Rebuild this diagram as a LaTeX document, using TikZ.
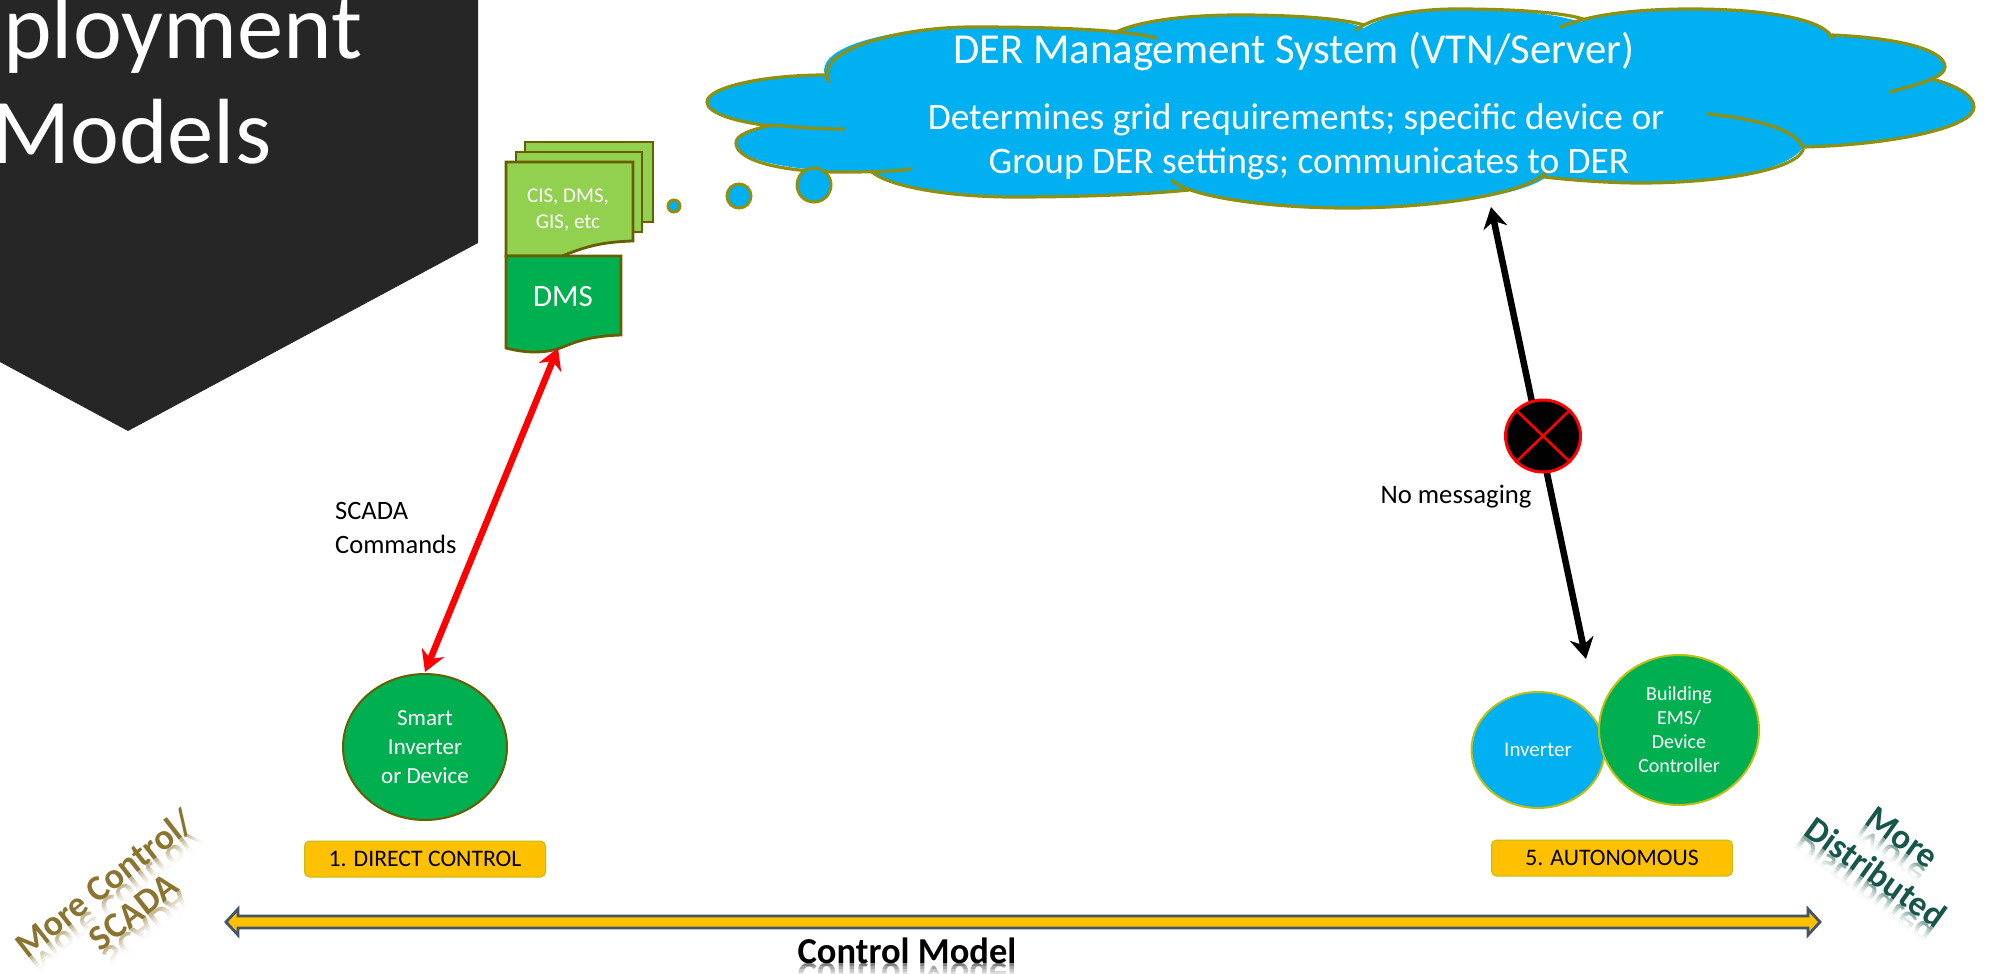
\documentclass[tikz,border=0pt]{standalone}
\usepackage{fontspec}
\setmainfont{Carlito}
\usetikzlibrary{arrows.meta,calc,shapes.geometric}
\definecolor{cloudblue}{HTML}{00B0F0}
\definecolor{cloudline}{HTML}{8F8F10}
\definecolor{docline}{HTML}{665E00}
\definecolor{lightgreen}{HTML}{92D050}
\definecolor{midgreen}{HTML}{00B050}
\definecolor{amber}{HTML}{FFC000}
\definecolor{slateb}{HTML}{44546A}
\definecolor{limeline}{HTML}{BFBF10}
\definecolor{darkpanel}{HTML}{262626}
\definecolor{goldtext}{HTML}{8A7430}
\definecolor{tealtext}{HTML}{17564A}
\newcommand{\fs}[1]{\fontsize{#1}{#1}\selectfont}
% #1 name, #2 x, #3 y, #4 angle, #5 size, #6 colour, #7 half width, #8 text
\newcommand{\mirrored}[8]{%
 \begin{scope}[shift={(#2,#3)}]
  \node[anchor=base,inner sep=0pt,rotate=#4,yscale=-1,text=#6!50!white,font=\bfseries\fs{#5}] (#1R) at (0,0) {#8};
  \begin{scope}[rotate=#4]
   \fill[white,opacity=.3] (-#7,3) rectangle (#7,32);
   \fill[white,opacity=.35] (-#7,6) rectangle (#7,32);
   \fill[white,opacity=.45] (-#7,9) rectangle (#7,32);
   \fill[white,opacity=.6] (-#7,12) rectangle (#7,32);
   \fill[white,opacity=.75] (-#7,15) rectangle (#7,32);
   \fill[white] (-#7,18) rectangle (#7,32);
  \end{scope}
 \end{scope}}
\newcommand{\mainlabel}[6]{%
  \node[anchor=base,inner sep=0pt,rotate=#4,text=#6,font=\bfseries\fs{#5}] (#1) at (#2,#3) {\csname lbl#1\endcsname};}
\newcommand{\lblcm}{Control Model}
\newcommand{\lblleftA}{More Control/}
\newcommand{\lblleftB}{SCADA}
\newcommand{\lblrightA}{More}
\newcommand{\lblrightB}{Distributed}
\tikzset{
  x=1pt,y=-1pt,
  lobe/.style={draw=cloudline,line width=3.2pt,line cap=round},
  bubble/.style={circle,draw=cloudline,line width=3pt,fill=cloudblue,inner sep=0pt},
  page/.style={draw=docline,line width=2.8pt,fill=lightgreen,line join=miter},
  roundlabel/.style={draw=limeline,line width=1pt,fill=amber,rounded corners=5pt,minimum width=241pt,minimum height=36pt,inner sep=0pt,text=black,font=\fs{23.7}},
  disc/.style={ellipse,draw,inner sep=0pt,align=center,text=white},
  dbl/.style={line width=6.5pt,{Stealth[length=21pt,width=24pt]}-{Stealth[length=21pt,width=24pt]}},
}
\begin{document}
\begin{tikzpicture}
\useasboundingbox (0,0) rectangle (1989,974);
\fill[white] (0,0) rectangle (1989,974);
% panel
\fill[darkpanel] (0,0) -- (478,0) -- (478,243) -- (128,431) -- (0,362) -- cycle;
\begin{scope}
\clip (0,0) rectangle (478,431);
\node[anchor=base west,text=white,font=\fs{92.6},inner sep=0pt] (titleA) at (3,59) {ployment};
\node[anchor=base west,text=white,font=\fs{92.6},inner sep=0pt] (titleB) at (-9,163) {Models};
\end{scope}
% cloud
\path[fill=cloudblue]
  (826,78) .. controls (810,45) and (900,27) .. (972,27)
  .. controls (1030,27) and (1090,30) .. (1114,33)
  .. controls (1140,20) and (1190,15) .. (1239,15)
  .. controls (1290,15) and (1340,18) .. (1364,28)
  .. controls (1385,15) and (1420,9) .. (1456,9)
  .. controls (1500,9) and (1550,12) .. (1580,22)
  .. controls (1610,12) and (1650,9) .. (1690,9)
  .. controls (1760,9) and (1825,20) .. (1832,35)
  .. controls (1900,38) and (1945,50) .. (1945,67)
  .. controls (1945,72) and (1940,75) .. (1932,79)
  .. controls (1955,85) and (1974,95) .. (1974,107)
  .. controls (1974,128) and (1890,145) .. (1803,147)
  .. controls (1790,170) and (1720,183) .. (1640,183)
  .. controls (1610,183) and (1570,180) .. (1546,177)
  .. controls (1520,197) and (1430,208) .. (1348,208)
  .. controls (1270,208) and (1205,198) .. (1189,190)
  .. controls (1140,195) and (1070,197) .. (1014,197)
  .. controls (950,197) and (890,187) .. (872,172)
  .. controls (790,172) and (736,160) .. (736,143)
  .. controls (736,135) and (750,130) .. (772,125)
  .. controls (735,122) and (707,113) .. (707,102)
  .. controls (707,88) and (760,75) .. (826,75) -- cycle;
\draw[lobe] (829,82) .. controls (812,50) and (900,27) .. (972,27) .. controls (1060,27) and (1125,30) .. (1156,38);
\draw[lobe] (1114,33) .. controls (1140,20) and (1190,15) .. (1239,15) .. controls (1290,15) and (1340,18) .. (1364,25);
\draw[lobe] (1356,30) .. controls (1375,15) and (1420,9) .. (1456,9) .. controls (1510,9) and (1565,12) .. (1586,20);
\draw[lobe] (1561,27) .. controls (1590,14) and (1640,9) .. (1690,9) .. controls (1770,9) and (1825,20) .. (1832,38);
\draw[lobe] (1832,35) .. controls (1900,38) and (1945,50) .. (1945,67) .. controls (1945,78) and (1915,85) .. (1890,92);
\draw[lobe] (1932,79) .. controls (1955,85) and (1974,95) .. (1974,107) .. controls (1974,128) and (1890,145) .. (1803,147);
\draw[lobe] (1708,114) .. controls (1770,120) and (1803,135) .. (1803,150) .. controls (1795,170) and (1720,183) .. (1640,183) .. controls (1610,183) and (1570,180) .. (1544,177);
\draw[lobe] (1548,170) .. controls (1530,195) and (1430,208) .. (1348,208) .. controls (1260,208) and (1185,195) .. (1172,180);
\draw[lobe] (1189,190) .. controls (1140,195) and (1070,197) .. (1014,197) .. controls (950,197) and (890,187) .. (872,172);
\draw[lobe] (911,169) .. controls (890,172) and (860,172) .. (839,172) .. controls (780,172) and (736,160) .. (736,143) .. controls (736,135) and (750,130) .. (772,125) .. controls (800,128) and (825,129) .. (844,129);
\draw[lobe] (826,75) .. controls (760,75) and (707,88) .. (707,102) .. controls (707,113) and (735,122) .. (772,126);
\node[bubble,minimum size=12pt] (bubA) at (674,206) {};
\node[bubble,minimum size=24pt] (bubB) at (739,196) {};
\node[bubble,minimum size=34pt] (bubC) at (814,185) {};
\node[text=white,font=\fs{42.7},inner sep=0pt] (derT) at (1294,52) {DER Management System (VTN/Server)};
\node[text=white,font=\fs{37.4},inner sep=0pt] (derA) at (1296,120) {Determines grid requirements; specific device or};
\node[text=white,font=\fs{37.4},inner sep=0pt] (derB) at (1309,164) {Group DER settings; communicates to DER};
% documents
\path[page] (525,142) rectangle (653,222);
\path[page] (516,152) rectangle (642,232);
\path[page] (506,162) -- (633,162) -- (633,241) .. controls (600,242) and (585,247) .. (562,256) -- (506,256) -- cycle;
\path[page,fill=midgreen] (506,256) -- (621,256) -- (621,335) .. controls (590,336) and (575,342) .. (563,347) .. controls (545,354) and (525,353) .. (506,348) -- cycle;
\node[text=white,font=\fs{21},inner sep=0pt] (docA) at (568,197) {CIS, DMS,};
\node[text=white,font=\fs{21},inner sep=0pt] (docC) at (568,223) {GIS, etc};
\node[text=white,font=\fs{31},inner sep=0pt] (docB) at (563,297) {DMS};
% discs
\node[disc,draw=docline,line width=2pt,fill=midgreen,minimum width=164pt,minimum height=146pt,font=\fs{23}] (smart) at (425,747) {Smart\\[6pt]Inverter\\[6pt]or Device};
\node[disc,draw=limeline,line width=2pt,fill=cloudblue,minimum width=133pt,minimum height=116pt,font=\fs{21}] (inv) at (1538,750) {Inverter};
\node[disc,draw=limeline,line width=2pt,fill=midgreen,minimum width=160pt,minimum height=150pt,font=\fs{20}] (bems) at (1679,730) {Building\\[4pt]EMS/\\[4pt]Device\\[4pt]Controller};
\node[roundlabel] (lab1) at (425,859) {1. DIRECT CONTROL};
\node[roundlabel] (lab5) at (1612,858) {5. AUTONOMOUS};
% connectors
\coordinate (smartTop) at (425,672);
\coordinate (dmsBottom) at (558,348);
\draw[dbl,red] (smartTop) -- (dmsBottom);
\coordinate (cloudTip) at (1491,207);
\coordinate (invTip) at (1586,659);
\draw[dbl,black] (cloudTip) -- (invTip);
\node[ellipse,draw=red,line width=3pt,fill=black,minimum width=75pt,minimum height=72pt,inner sep=0pt] (stop) at (1543,436) {};
\draw[red,line width=2.6pt] (stop.north west) -- (stop.south east);
\draw[red,line width=2.6pt] (stop.north east) -- (stop.south west);
\node[font=\fs{26.7},inner sep=0pt] (nomsg) at (1456,497) {No messaging};
\node[anchor=west,font=\fs{26.5},inner sep=0pt] (scadaA) at (335,511) {SCADA};
\node[anchor=west,font=\fs{26.5},inner sep=0pt] (scadaB) at (335,544) {Commands};
% reflections with fading veils
\mirrored{cm}{907}{963}{0}{36.5}{black}{115}{Control Model}
\mirrored{leftA}{112}{893}{38}{36}{goldtext}{112}{More Control/}
\mirrored{leftB}{141}{921}{38}{36}{goldtext}{55}{SCADA}
\mirrored{rightA}{1896}{847}{-35.6}{35}{tealtext}{50}{More}
\mirrored{rightB}{1869}{882}{-35.6}{35}{tealtext}{92}{Distributed}
% control arrow
\path[draw=slateb,line width=2.8pt,fill=amber,line join=miter] (226,922) -- (238,909) -- (238,916) -- (1808,916) -- (1808,909) -- (1820,922) -- (1808,935) -- (1808,928) -- (238,928) -- (238,935) -- cycle;
% main labels
\mainlabel{cm}{907}{963}{0}{36.5}{black}
\mainlabel{leftA}{112}{893}{38}{36}{goldtext}
\mainlabel{leftB}{141}{921}{38}{36}{goldtext}
\mainlabel{rightA}{1896}{847}{-35.6}{35}{tealtext}
\mainlabel{rightB}{1869}{882}{-35.6}{35}{tealtext}
\end{tikzpicture}
\end{document}
